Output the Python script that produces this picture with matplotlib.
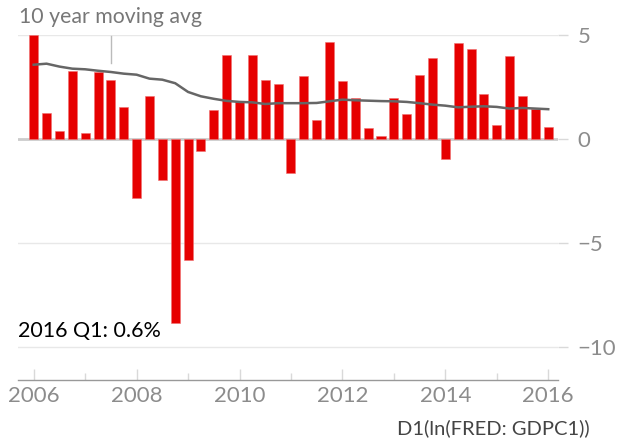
import numpy as np
import matplotlib
matplotlib.use("Agg")
import matplotlib.pyplot as plt

plt.rcParams['font.family'] = ['Lato', 'DejaVu Sans']

# Quarterly growth, 2006 Q1 .. 2016 Q1
quarters = 2006 + 0.25 * np.arange(41)
growth = [5.0, 1.26, 0.40, 3.27, 0.29, 3.20, 2.82, 1.52,
          -2.85, 2.08, -1.99, -8.86, -5.82, -0.56, 1.39, 4.04,
          1.83, 4.02, 2.82, 2.63, -1.62, 3.03, 0.91, 4.66,
          2.77, 1.96, 0.53, 0.13, 1.99, 1.19, 3.06, 3.89,
          -0.96, 4.63, 4.34, 2.15, 0.69, 3.98, 2.05, 1.46,
          0.58]
moving_avg = [3.57, 3.62, 3.48, 3.38, 3.35, 3.28, 3.22, 3.14,
              3.09, 2.90, 2.85, 2.68, 2.26, 2.05, 1.93, 1.83,
              1.78, 1.76, 1.68, 1.72, 1.72, 1.72, 1.73, 1.81,
              1.89, 1.86, 1.84, 1.82, 1.81, 1.78, 1.72, 1.65,
              1.60, 1.52, 1.55, 1.57, 1.54, 1.46, 1.49, 1.46,
              1.43]
year_ticks = [2006, 2008, 2010, 2012, 2014, 2016]
minor_ticks = [2007, 2009, 2011, 2013, 2015]
y_ticks = [5, 0, -5, -10]

fig = plt.figure(figsize=(6.29, 4.4), dpi=100)
ax = fig.add_axes([18 / 629, 60 / 440, 540 / 629, 345 / 440])

grey_txt = '#8c8c8c'
light = '#d9d9d9'

for y in y_ticks:
    if y != 0:
        ax.axhline(y, color='#e8e8e8', lw=1, zorder=0)
ax.axhline(0, color='#cccccc', lw=2, zorder=1)

ax.bar(quarters, growth, width=0.175, color='#e60000', edgecolor='#f07070',
       linewidth=0.4, zorder=2)
ax.plot(quarters, moving_avg, color='#666666', lw=1.8, zorder=3)

# pointer to the moving average line
ax.plot([quarters[6], quarters[6]], [moving_avg[6] + 0.42, 4.95],
        color='#bbbbbb', lw=1, zorder=3)
fig.text(19 / 629, (440 - 23) / 440, '10 year moving avg', color='#777777',
         fontsize=15.3, va='baseline', ha='left')

fig.text(18 / 629, (440 - 337) / 440, f'2016 Q1: {growth[-1]:.1f}%',
         color='black', fontsize=15.5, va='baseline', ha='left')
fig.text(590 / 629, (440 - 428) / 440, 'D1(ln(FRED: GDPC1))', color='#444444',
         fontsize=14.5, va='center', ha='right')

ax.set_xlim(2005.695, 2016.19)
ax.set_ylim(-11.6, 5.0)

ax.yaxis.tick_right()
ax.set_yticks(y_ticks)
ax.set_yticklabels([str(v).replace('-', '\u2212') for v in y_ticks])
ax.tick_params(axis='y', length=7.2, width=1, color=light, labelcolor=grey_txt,
               labelsize=16, pad=7)

ax.set_xticks(year_ticks)
ax.set_xticks(minor_ticks, minor=True)
ax.tick_params(axis='x', which='major', direction='in', length=8, width=1,
               color=light, labelcolor=grey_txt, labelsize=16, pad=4)
ax.tick_params(axis='x', which='minor', direction='in', length=5, width=1,
               color=light)

for s in ['top', 'left', 'right']:
    ax.spines[s].set_visible(False)
ax.spines['bottom'].set_color('#999999')
ax.spines['bottom'].set_linewidth(1)

fig.savefig('out.png', dpi=100)
